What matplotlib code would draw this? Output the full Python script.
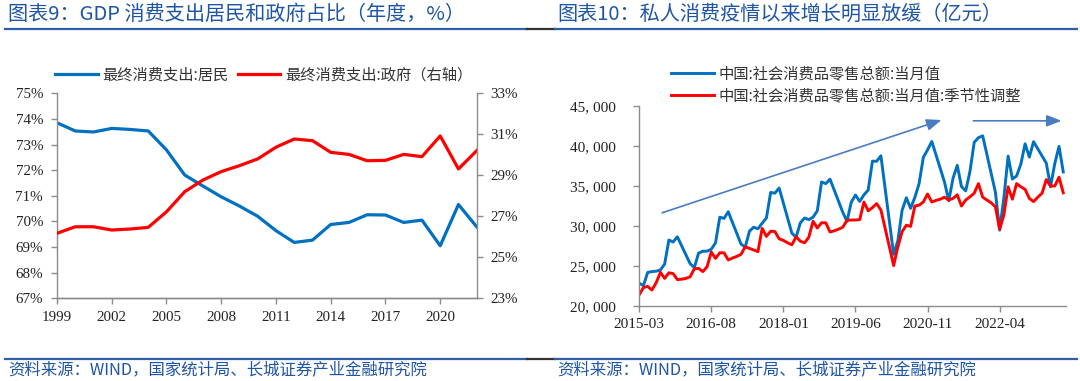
import matplotlib
matplotlib.use('Agg')
import matplotlib.pyplot as plt
import numpy as np
import pandas as pd
from matplotlib.lines import Line2D

# ---------------- data: left chart (annual, %) ----------------
years = list(range(1999, 2023))
household_share = [73.85, 73.53, 73.49, 73.63, 73.59, 73.53, 72.79, 71.81, 71.38, 70.96,
                   70.60, 70.20, 69.64, 69.18, 69.27, 69.88, 69.96, 70.26, 70.25, 69.96,
                   70.05, 69.05, 70.66, 69.79]
government_share = [26.17, 26.49, 26.49, 26.33, 26.38, 26.46, 27.22, 28.20, 28.77, 29.18,
                    29.47, 29.80, 30.37, 30.77, 30.69, 30.12, 30.02, 29.71, 29.73, 30.02,
                    29.91, 30.92, 29.31, 30.20]
left_yticks = [67, 68, 69, 70, 71, 72, 73, 74, 75]
right_yticks = [23, 25, 27, 29, 31, 33]
left_xticks = [1999, 2002, 2005, 2008, 2011, 2014, 2017, 2020]

# ---------------- data: right chart (monthly, 亿元) ----------------
months = pd.period_range('2015-03', '2023-07', freq='M').strftime('%Y-%m').tolist()
N = None
retail_monthly = [
    22850, 22550, 24200, 24300, 24350, 24500, 25250, 28250, 28000, 28650,
    N, N,
    25300, 24800, 26600, 26850, 26850, 27100, 27900, 31100, 30950, 31780,
    N, N,
    27750, 27350, 29350, 29850, 29650, 30350, 31000, 34200, 34100, 34750,
    N, N,
    29100, 28600, 30400, 31000, 30800, 31100, 31900, 35500, 35300, 35850,
    N, N,
    31726, 30586, 32956, 33878, 33073, 33896, 34495, 38104, 38094, 38777,
    N, N,
    26450, 28178, 31973, 33526, 32203, 33571, 35295, 38576, 39514, 40566,
    N, N,
    35484, 33153, 35945, 37586, 34925, 34395, 36833, 40454, 41043, 41269,
    N, N,
    34233, 29483, 33547, 38742, 35870, 36258, 37745, 40271, 38615, 40542,
    N, N,
    37855, 34910, 37803, 39951, 36761]
retail_sa = [
    21400, 22300, 22450, 22000, 22900, 24200, 23450, 24150, 24050, 23300,
    23350, 23450, 23650, 24650, 24700, 24300, 24900, 26750, 25950, 26650,
    26650, 25750, 26000, 26200, 26450, 27400, 27200, 27000, 26800, 29700,
    28700, 29350, 29300, 28400, 28200, 27900, 27650, 28650, 28100, 27900,
    28600, 30600, 29750, 30400, 30400, 29250, 29400, 29600, 29850, 30700,
    30750, 30750, 30800, 33000, 31900, 32300, 32800, 32000, 29700, 27400,
    25050, 27400, 29300, 30100, 29950, 32500, 32600, 33000, 34000, 33000,
    33200, 33350, 33600, 33250, 33450, 33900, 32500, 33250, 33650, 34100,
    35300, 33600, 33250, 32900, 32400, 29600, 31400, 34900, 33350, 35300,
    34900, 34580, 33450, 33050, 33600, 34100, 35800, 35000, 35000, 36100,
    34150]
right_yticks_vals = [20000, 25000, 30000, 35000, 40000, 45000]
right_xtick_labels = ['2015-03', '2016-08', '2018-01', '2019-06', '2020-11', '2022-04']

# ---------------- styling ----------------
BLUE = '#0070C0'
RED = '#FF0000'
AXGRAY = '#8C8C8C'
TITLE_BLUE = '#1F55A5'
ARROW_BLUE = '#4A7CC2'
SERIF = ['Liberation Serif', 'DejaVu Serif']
CJK = ['Noto Sans CJK SC', 'DejaVu Sans']

plt.rcParams['font.family'] = SERIF

fig = plt.figure(figsize=(10.8, 3.81), dpi=100)

# ---- titles & separator lines ----
fig.text(8 / 1080, 1 - 14 / 381, '图表9：GDP 消费支出居民和政府占比（年度，%）',
         family=CJK, fontsize=14.5, color=TITLE_BLUE, va='center', ha='left')
fig.text(557 / 1080, 1 - 14 / 381, '图表10：私人消费疫情以来增长明显放缓（亿元）',
         family=CJK, fontsize=14.5, color=TITLE_BLUE, va='center', ha='left')
fig.text(8 / 1080, 1 - 371 / 381, '资料来源：WIND，国家统计局、长城证券产业金融研究院',
         family=CJK, fontsize=11.8, color=TITLE_BLUE, va='center', ha='left')
fig.text(557 / 1080, 1 - 371 / 381, '资料来源：WIND，国家统计局、长城证券产业金融研究院',
         family=CJK, fontsize=11.8, color=TITLE_BLUE, va='center', ha='left')

for yy in (1 - 29 / 381, 1 - 359 / 381):
    fig.add_artist(Line2D([5 / 1080, 527 / 1080], [yy, yy], transform=fig.transFigure,
                          color='#2E5FA8', lw=1.6))
    fig.add_artist(Line2D([527 / 1080, 555 / 1080], [yy, yy], transform=fig.transFigure,
                          color='#333333', lw=1.6))
    fig.add_artist(Line2D([555 / 1080, 1077 / 1080], [yy, yy], transform=fig.transFigure,
                          color='#2E5FA8', lw=1.6))

# ---------------- left chart ----------------
ax1 = fig.add_axes([57 / 1080, 1 - 298.3 / 381, 419.7 / 1080, 205 / 381])
l1, = ax1.plot(years, household_share, color=BLUE, lw=2.3, label='最终消费支出:居民')
ax1.set_xlim(1999, 2022)
ax1.set_ylim(67, 75)
ax1.set_yticks(left_yticks)
ax1.set_yticklabels([f'{v}%' for v in left_yticks])
ax1.set_xticks(left_xticks)
ax1.set_xticklabels([str(v) for v in left_xticks])

ax2 = ax1.twinx()
l2, = ax2.plot(years, government_share, color=RED, lw=2.3, label='最终消费支出:政府（右轴）')
ax2.set_ylim(23, 33)
ax2.set_yticks(right_yticks)
ax2.set_yticklabels([f'{v}%' for v in right_yticks])

for ax in (ax1, ax2):
    ax.spines['top'].set_visible(False)
    for s in ax.spines.values():
        s.set_color(AXGRAY)
        s.set_linewidth(1.0)
    ax.tick_params(colors=AXGRAY, labelcolor='#222222', labelsize=10.8, length=4, width=1.0)
ax1.spines['right'].set_visible(False)
ax2.spines['left'].set_visible(False)
ax1.tick_params(axis='y', pad=6)
ax1.tick_params(axis='x', pad=5)
ax2.tick_params(axis='y', pad=6)

leg1 = ax1.legend(handles=[l1, l2], loc='center', bbox_to_anchor=(0.492, 1.09),
                  ncol=2, frameon=False, prop={'family': CJK, 'size': 11},
                  handlelength=2.8, handletextpad=0.3, columnspacing=0.6,
                  borderaxespad=0, borderpad=0)
for t in leg1.get_texts():
    t.set_color('#333333')

# ---------------- right chart ----------------
ax3 = fig.add_axes([639.2 / 1080, 1 - 306 / 381, 426.6 / 1080, 200 / 381])
x = np.arange(len(months))
blue_arr = np.array([np.nan if v is None else v for v in retail_monthly], dtype=float)
valid = ~np.isnan(blue_arr)
l3, = ax3.plot(x[valid], blue_arr[valid], color=BLUE, lw=2.1,
               label='中国:社会消费品零售总额:当月值')
l4, = ax3.plot(x, retail_sa, color=RED, lw=2.1,
               label='中国:社会消费品零售总额:当月值:季节性调整')
ax3.set_xlim(0, 100.6)
ax3.set_ylim(20000, 45000)
ax3.set_yticks(right_yticks_vals)
ax3.set_yticklabels([f'{v // 1000}, {v % 1000:03d}' for v in right_yticks_vals])
ax3.set_xticks([months.index(m) for m in right_xtick_labels])
ax3.set_xticklabels(right_xtick_labels)
for side in ('top', 'right'):
    ax3.spines[side].set_visible(False)
for s in ax3.spines.values():
    s.set_color(AXGRAY)
    s.set_linewidth(1.0)
ax3.tick_params(colors=AXGRAY, labelcolor='#222222', labelsize=11, length=4, width=1.0)
ax3.tick_params(axis='y', pad=13)
ax3.tick_params(axis='x', pad=5)

leg2 = ax3.legend(handles=[l3, l4], loc='center left', bbox_to_anchor=(0.075, 1.105),
                  ncol=1, frameon=False, prop={'family': CJK, 'size': 11},
                  handlelength=2.8, handletextpad=0.3, labelspacing=0.35,
                  borderaxespad=0, borderpad=0)
for t in leg2.get_texts():
    t.set_color('#333333')

# trend arrows (annotations)
ax3.annotate('', xy=(71.3, 43250), xytext=(5.4, 31650),
             arrowprops=dict(arrowstyle='-|>,head_length=0.9,head_width=0.35',
                             color=ARROW_BLUE, lw=1.2, shrinkA=0, shrinkB=0))
ax3.annotate('', xy=(99.6, 43150), xytext=(78.8, 43150),
             arrowprops=dict(arrowstyle='-|>,head_length=0.9,head_width=0.35',
                             color=ARROW_BLUE, lw=1.2, shrinkA=0, shrinkB=0))

fig.savefig('out.png', dpi=100)
